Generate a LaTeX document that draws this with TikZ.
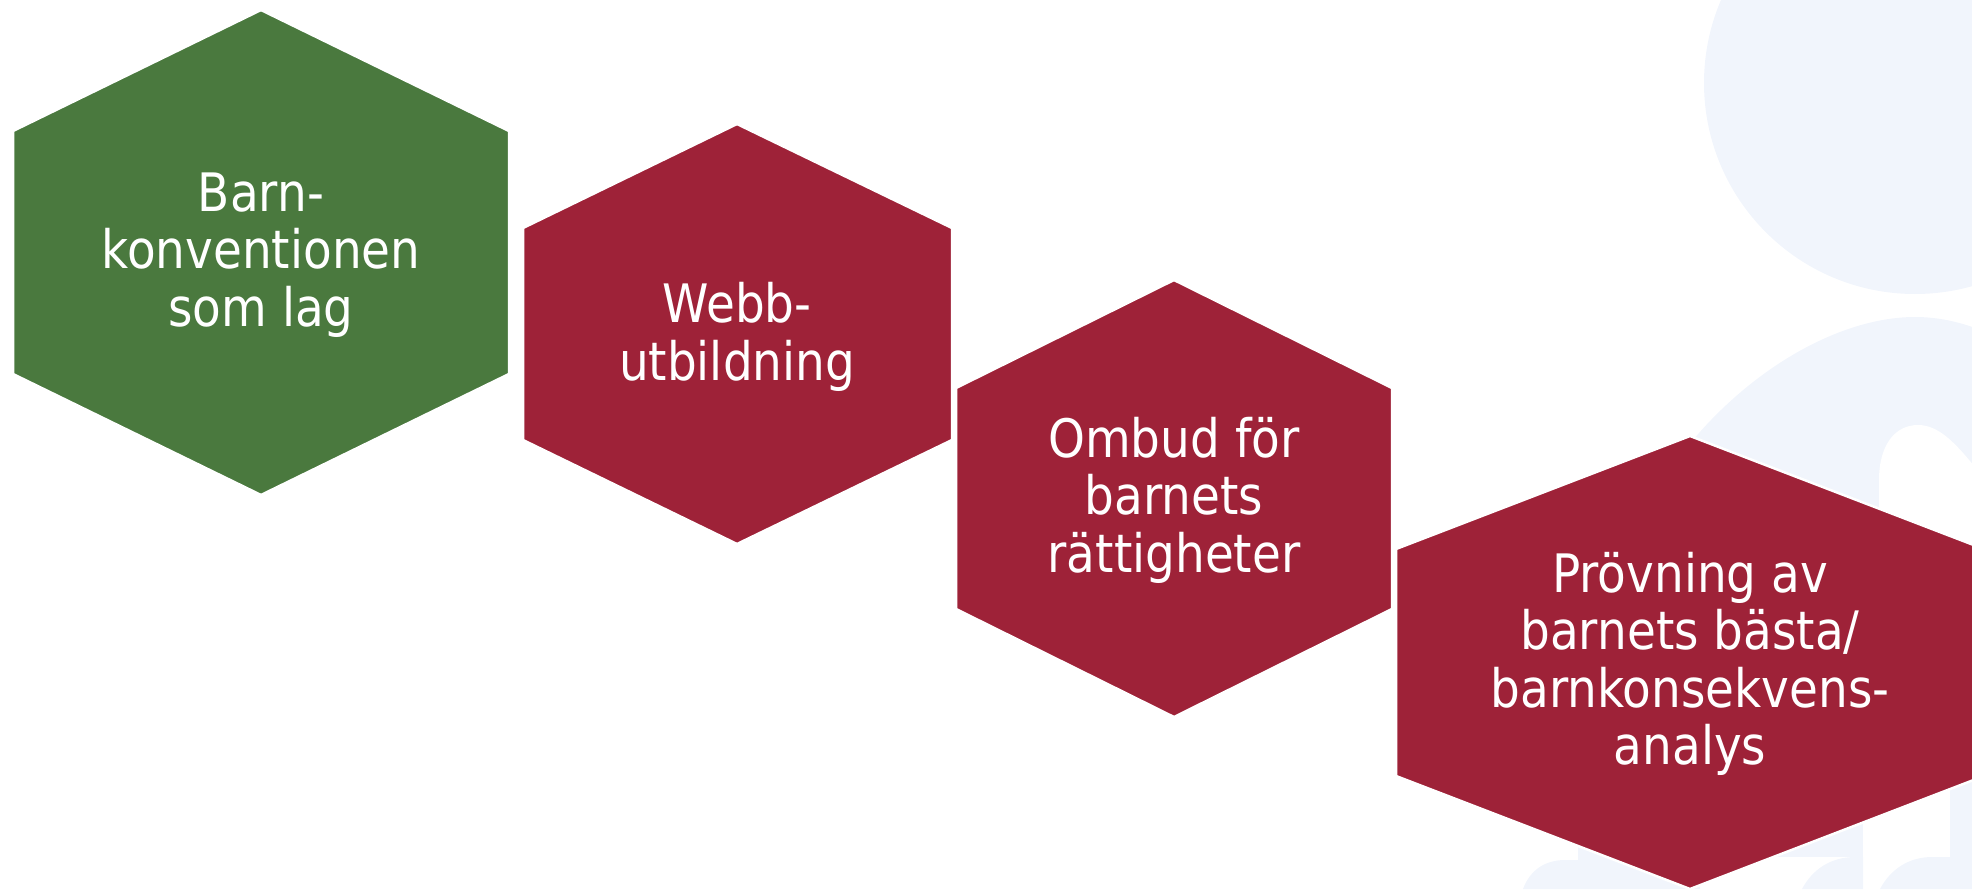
\documentclass[tikz,border=0pt]{standalone}
\usepackage{fontspec}
\setmainfont{DejaVu Sans}[FakeStretch=0.885]
\definecolor{hexgreen}{RGB}{74,121,62}
\definecolor{hexred}{RGB}{158,34,56}
\definecolor{bgblue}{RGB}{241,245,252}
\tikzset{
  hexshape/.style={draw=white, line width=2.5pt, line join=miter},
  lbl/.style={text=white, align=center, inner sep=0pt,
    font=\fontsize{53}{57.5}\selectfont}
}
\begin{document}
\begin{tikzpicture}[x=1pt,y=-1pt]
\useasboundingbox (0,0) rectangle (1972,889);
\clip (0,0) rectangle (1972,889);
% background figures
\fill[bgblue] (1915,83) circle (211pt);
\fill[bgblue] (1640,520) .. controls (1700,400) and (1820,317) .. (1915,317)
  .. controls (2010,317) and (2100,400) .. (2150,520) -- (2150,760) -- (1640,760) -- cycle;
\fill[white] (1879,560) -- (1879,480) .. controls (1879,445) and (1895,425) .. (1918,425)
  .. controls (1940,425) and (1958,445) .. (1985,480) -- (1985,560) -- cycle;
\fill[bgblue] (1578,800) rectangle (1863,857);
\fill[bgblue] (1523,889) .. controls (1530,870) and (1545,860) .. (1565,860) -- (1578,860)
  -- (1578,852) -- (1700,852) -- (1700,889) -- cycle;
\fill[bgblue] (1802,889) .. controls (1812,870) and (1830,857) .. (1855,857) -- (1863,857)
  -- (1863,889) -- cycle;
\fill[bgblue] (1880,889) .. controls (1890,870) and (1908,857) .. (1932,857) -- (1950,857)
  -- (1950,780) -- (1980,780) -- (1980,889) -- cycle;
% hexagons
\path[hexshape, fill=hexgreen] (261,10) -- (509,131) -- (509,374) -- (261,495) -- (13,374) -- (13,131) -- cycle;
\path[hexshape, fill=hexred] (737,124) -- (952,228) -- (952,440) -- (737,544) -- (523,440) -- (523,228) -- cycle;
\path[hexshape, fill=hexred] (1174,280) -- (1392,388) -- (1392,609) -- (1174,717) -- (956,609) -- (956,388) -- cycle;
\path[hexshape, fill=hexred] (1690,436) -- (1984,549) -- (1984,776) -- (1690,889) -- (1396,776) -- (1396,549) -- cycle;
% labels
\node[lbl] (t1) at (261,255) {Barn-\\konventionen\\som lag};
\node[lbl] (t2) at (737,337) {Webb-\\utbildning};
\node[lbl] (t3) at (1174,500) {Ombud för\\barnets\\rättigheter};
\node[lbl] (t4) at (1690,664) {Prövning av\\barnets bästa/\\barnkonsekvens-\\analys};
\end{tikzpicture}
\end{document}
